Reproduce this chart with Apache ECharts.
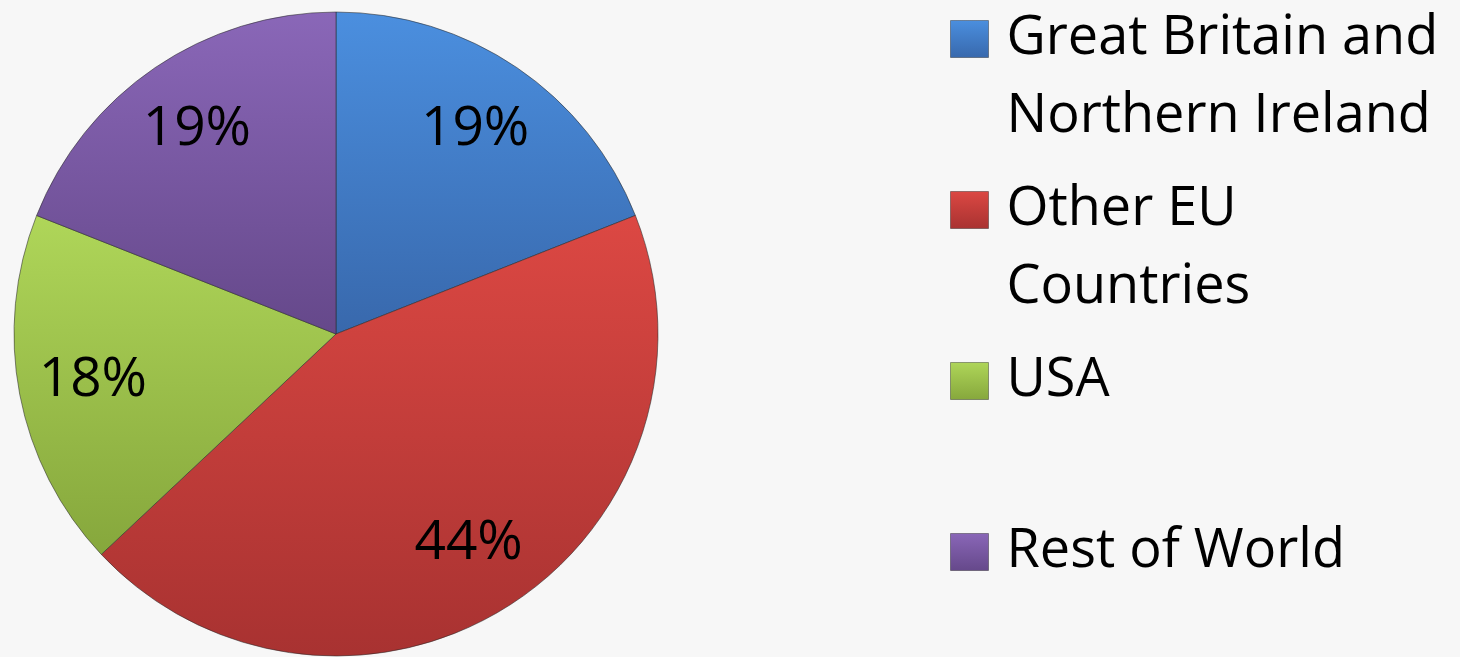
<!DOCTYPE html>
<html>
<head>
<meta charset="utf-8">
<script src="https://cdn.jsdelivr.net/npm/echarts@6/dist/echarts.min.js"></script>
<style>
  html, body { margin: 0; padding: 0; background: #f7f7f7; }
  #pie-chart { width: 1460px; height: 657px; }
</style>
</head>
<body>
<div id="pie-chart"></div>
<script>
const categories = ['Great Britain and Northern Ireland', 'Other EU Countries', 'USA', 'Rest of World']
const shares = [19, 44, 18, 19]
const legendLines = [['Great Britain and', 'Northern Ireland'], ['Other EU', 'Countries'], ['USA'], ['Rest of World']]
// top / bottom shade of each slice
const colorTop = ['#4b8fdf', '#dc4843', '#afd659', '#8a67b8']
const colorBottom = ['#3868ac', '#a83231', '#86a73c', '#65488a']

function shade(i) {
  return new echarts.graphic.LinearGradient(0, 0, 0, 1, [
    { offset: 0, color: colorTop[i] },
    { offset: 1, color: colorBottom[i] },
  ])
}

const pieData = categories.map((name, i) => ({
  name,
  value: shares[i],
  itemStyle: { color: shade(i) },
}))

const labelData = categories.map((name, i) => ({ name, value: shares[i] }))

function legendText(name) {
  const lines = legendLines[categories.indexOf(name)]
  // pad to three lines so the icon sits beside the first line
  return '\n' + lines.join('\n') + (lines.length < 2 ? '\n' : '')
}

const chart = echarts.init(document.getElementById('pie-chart'))
chart.setOption({
  backgroundColor: '#f7f7f7',
  animation: false,
  legend: {
    orient: 'vertical',
    left: 950,
    top: -78,
    height: 1000,
    padding: 0,
    itemGap: -63,
    itemWidth: 38,
    itemHeight: 37,
    icon: 'rect',
    selectedMode: false,
    data: categories,
    formatter: legendText,
    textStyle: {
      fontFamily: 'Open Sans',
      fontSize: 54,
      lineHeight: 78,
      color: '#000',
      padding: [0, 0, 0, 13],
    },
    itemStyle: { borderColor: 'rgba(0,0,0,0.35)', borderWidth: 1 },
  },
  series: [
    {
      type: 'pie',
      center: [336, 334],
      radius: [0, 322],
      startAngle: 90,
      clockwise: true,
      silent: true,
      label: { show: false },
      labelLine: { show: false },
      itemStyle: { borderColor: 'rgba(40,40,40,0.55)', borderWidth: 1 },
      emphasis: { disabled: true },
      data: pieData,
    },
    {
      type: 'pie',
      center: [336, 334],
      radius: [167, 322],
      startAngle: 90,
      clockwise: true,
      silent: true,
      itemStyle: { color: 'rgba(0,0,0,0)', borderWidth: 0 },
      label: {
        show: true,
        position: 'inside',
        formatter: '{c}%',
        fontFamily: 'Open Sans',
        fontSize: 55,
        color: '#000',
      },
      labelLine: { show: false },
      emphasis: { disabled: true },
      data: labelData,
    },
  ],
})
</script>
</body>
</html>
